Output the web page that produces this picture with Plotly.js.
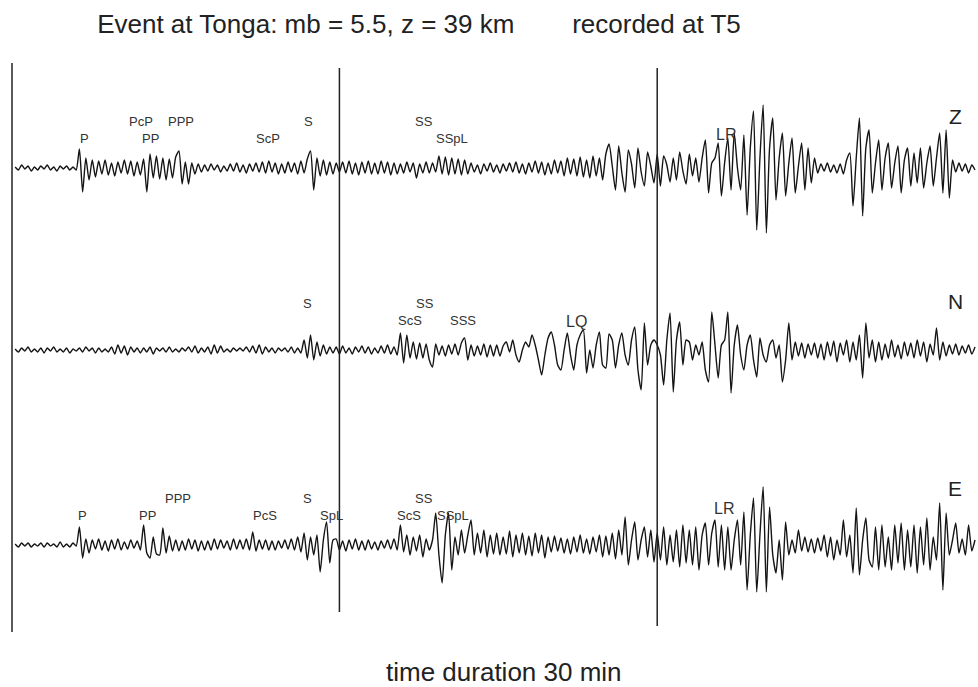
<!DOCTYPE html>
<html>
<head>
<meta charset="utf-8">
<script src="https://cdn.plot.ly/plotly-3.0.1.min.js"></script>
<style>html,body{margin:0;padding:0;background:#fff}#chart{width:978px;height:687px}</style>
</head>
<body>
<div id="chart"></div>
<script>
// ---- data (time in minutes, amplitude in plot units; one row = one minute, 0.1 min step) ----
const startTime = 0.1;
const timeStep = 0.1;

const zAmp = [
  1,-2,3,-1,2,-3,1,-2,2,-1,
  3,-2,1,-3,2,-1,2,-2,1,-2,
  19,-24,10,-12,8,-9,7,-6,8,-7,
  5,-8,6,-5,8,-6,7,-8,6,-7,
  9,-24,14,-10,12,-11,10,-12,9,-10,
  11,17,-16,6,-16,5,-6,4,-4,3,
  -3,4,-2,3,-4,2,-3,4,-3,5,
  -4,3,-5,4,-3,5,-4,6,-5,7,
  -4,5,-6,4,-5,6,-4,5,-6,7,
  -5,9,17,-22,10,-8,8,-7,6,-6,
  5,-4,6,-5,7,-6,5,-7,6,-5,
  7,-6,5,-6,7,-5,6,-7,5,-6,
  4,-5,6,-4,5,-10,4,-5,6,-5,
  5,-4,12,-6,11,-7,10,-6,9,-7,
  8,-6,5,-4,3,-6,4,-3,5,-4,
  3,-5,4,-3,5,-4,6,-5,4,-6,
  5,-4,7,-5,6,-7,5,-6,8,-5,
  7,-8,10,-6,9,-8,11,-9,8,-10,
  12,-8,10,-12,14,24,2,-22,22,-5,
  -24,18,4,-20,20,-4,-18,16,2,-15,
  14,-18,12,3,-14,10,-12,16,-3,-16,
  14,-8,10,-14,10,28,-25,5,10,25,
  -28,5,30,-22,35,0,-22,33,-47,20,
  57,-62,10,63,-65,20,50,-32,10,35,
  -28,5,30,-25,2,25,-22,20,-15,10,
  -5,4,-3,5,-4,3,-5,4,-6,8,
  15,-38,10,50,-48,20,38,-25,5,28,
  -22,10,25,-20,5,22,-25,8,20,-18,
  15,-15,20,-20,5,22,-18,10,35,-25,
  38,-30,8,-4,5,-3,4,-5,3,-2
];

const nAmp = [
  1,-2,2,-1,3,-2,1,-2,2,-3,
  2,-1,3,-2,1,-2,2,-3,1,-1,
  2,-2,3,-1,2,-3,2,-2,1,-2,
  3,-4,5,-3,4,-5,3,-2,2,-3,
  2,-2,3,-4,2,-1,2,-2,3,-2,
  1,-2,2,-1,3,-2,4,-3,2,-2,
  3,-4,5,-3,4,-2,1,-2,2,-1,
  2,-1,3,-2,4,-3,5,-4,3,-2,
  2,-3,2,-1,2,-2,3,-3,2,-3,
  10,-8,15,-10,8,-6,5,-4,3,-3,
  3,-4,4,-3,2,-4,3,-2,4,-3,
  3,-4,2,-3,4,-3,5,-4,3,-5,
  17,-13,15,-8,8,-9,7,-8,6,-10,
  -17,6,-5,4,-6,5,-4,6,-5,7,
  12,-10,5,-6,4,-5,6,-7,5,-6,
  5,-6,4,8,-2,10,-5,-12,0,8,
  3,15,5,-10,-25,-5,12,18,5,-15,
  -20,0,17,-5,-20,5,15,20,-23,0,
  -18,5,18,-15,-18,16,10,-18,5,17,
  -5,-15,10,23,-20,-40,27,-15,5,10,
  5,-5,-35,10,37,-42,10,28,-15,10,
  8,-10,5,-5,8,-20,-32,38,5,-28,
  5,10,38,-43,5,25,-5,-20,5,15,
  -10,-27,12,-5,-12,5,10,-8,5,-32,
  -10,27,-10,8,-6,7,-8,6,-5,7,
  -8,6,-10,8,-6,9,-12,7,-5,10,
  -12,8,-10,15,-28,27,-8,10,-12,8,
  -10,6,-8,10,-7,5,-9,8,-6,7,
  -8,10,-6,8,-12,6,-5,22,-10,8,
  -6,5,-4,6,-5,4,-3,5,-4,3
];

const eAmp = [
  1,-2,2,-1,2,-2,1,-1,2,-2,
  2,-1,1,-2,3,-2,1,-2,2,-1,
  18,-13,6,-8,5,-4,6,-5,4,-6,
  5,-4,6,-5,3,-4,5,-3,4,-5,
  20,-8,-13,8,-9,-10,17,-8,9,-6,
  5,-6,4,-5,6,-4,5,-6,4,-5,
  4,-5,6,-4,5,-3,4,-5,6,-4,
  5,-4,6,-5,13,-6,5,-4,5,-5,
  4,-5,4,-3,5,-4,6,-5,8,-7,
  12,-15,8,-10,10,-27,5,23,-18,5,
  6,-5,4,-6,5,-4,6,-5,4,-5,
  5,-4,3,-5,4,-3,5,-4,6,-5,
  20,-7,10,-10,8,-6,10,-12,6,-5,
  5,32,-10,-38,10,32,-25,8,-10,15,
  -8,10,25,-10,12,-8,15,-12,10,-9,
  12,-10,8,-9,14,-12,10,-8,12,-10,
  9,-11,12,-8,10,-13,8,-7,9,-6,
  7,-8,6,-9,8,-7,10,-8,6,-9,
  8,-7,10,-12,9,-10,12,-14,15,-10,
  28,-20,5,23,-15,5,18,-12,15,-17,
  12,-15,18,-20,10,-17,15,-22,20,-18,
  15,-20,18,-25,10,22,-20,12,25,-22,
  20,-25,18,-25,5,25,-20,33,-45,10,
  47,-47,10,58,-47,38,-10,-28,5,-35,
  23,-10,5,-8,15,-6,8,-7,6,-8,
  7,-6,10,-12,8,-15,5,-10,25,-12,
  10,-28,37,-30,5,27,-15,-22,18,-25,
  20,-22,8,-25,20,-18,22,-25,15,-22,
  20,-28,18,-20,27,-25,8,-15,42,-45,
  32,-10,5,22,-8,6,-10,20,-6,5
];

// minute marks (vertical lines)
const markTimes = [0, 10.2, 20.1];

// phase picks: names and times (min)
const zPhases = ["P","PcP","PP","PPP","ScP","S","SS","SSpL"];
const zPhaseTimes = [2.27,4.02,4.30,5.26,7.98,9.25,12.83,13.71];
const zPhaseRow = [0,1,0,1,0,1,1,0];
const nPhases = ["S","SS","ScS","SSS"];
const nPhaseTimes = [9.22,12.87,12.40,14.05];
const nPhaseRow = [1,1,0,0];
const ePhases = ["P","PP","PPP","PcS","S","SpL","SS","ScS","SSpL"];
const ePhaseTimes = [2.21,4.21,5.17,7.88,9.19,9.94,12.83,12.37,13.74];
const ePhaseRow = [0,0,1,0,1,0,1,0,0];
const waveNames = ["LR","LQ","LR"];
const waveTimes = [22.24,17.57,22.18];
const components = ["Z","N","E"];
const componentTime = 29.38;

// ---- drawing ----
const pxPerMin = 32.1, x0px = 12;
const baselines = [-168, -350, -545];
const amps = [zAmp, nAmp, eAmp];
const times = zAmp.map((_, i) => +(startTime + i * timeStep).toFixed(2));

const traces = amps.map((a, k) => ({
  x: times,
  y: a.map(v => baselines[k] + v),
  type: 'scatter', mode: 'lines',
  line: {color: '#141414', width: 1.4, shape: 'spline', smoothing: 0.6},
  hoverinfo: 'skip', showlegend: false
}));

const lineTops = [-63, -68, -68];
const lineBottoms = [-632, -612, -626];
const shapes = markTimes.map((t, i) => ({
  type: 'line', xref: 'x', yref: 'y', x0: t, x1: t, y0: lineTops[i], y1: lineBottoms[i],
  line: {color: '#222', width: 1.5}
}));

const font = 'Liberation Sans, Arial, sans-serif';
const ann = [];
function addPhases(names, ts, rows, base) {
  names.forEach((n, i) => {
    ann.push({x: ts[i], y: base + (rows[i] ? 47 : 30), xref: 'x', yref: 'y', text: n,
      showarrow: false, xanchor: 'center', yanchor: 'middle',
      font: {family: font, size: 13, color: '#333'}});
  });
}
addPhases(zPhases, zPhaseTimes, zPhaseRow, baselines[0]);
addPhases(nPhases, nPhaseTimes, nPhaseRow, baselines[1]);
addPhases(ePhases, ePhaseTimes, ePhaseRow, baselines[2]);
const waveOffsets = [34, 29, 37];
waveNames.forEach((n, i) => ann.push({x: waveTimes[i], y: baselines[i] + waveOffsets[i], xref: 'x', yref: 'y',
  text: n, showarrow: false, font: {family: font, size: 16, color: '#333'}}));
const compOffsets = [52, 49, 57];
components.forEach((c, i) => ann.push({x: componentTime, y: baselines[i] + compOffsets[i], xref: 'x', yref: 'y',
  text: c, showarrow: false, font: {family: font, size: 21, color: '#222'}}));
ann.push({x: 0.515, y: 1 - 672/687, xref: 'paper', yref: 'paper', yanchor: 'middle', text: 'time duration 30 min',
  showarrow: false, font: {family: font, size: 26, color: '#222'}});

const layout = {
  width: 978, height: 687,
  margin: {l: 0, r: 0, t: 0, b: 0},
  paper_bgcolor: '#fff', plot_bgcolor: '#fff',
  title: {text: 'Event at Tonga: mb = 5.5, z = 39 km' + '\u00A0'.repeat(8) + 'recorded at T5',
    x: 0.4284, xanchor: 'center', y: 1 - 24/687, yanchor: 'middle',
    font: {family: font, size: 26, color: '#222'}},
  xaxis: {range: [-x0px / pxPerMin, (978 - x0px) / pxPerMin], visible: false, fixedrange: true},
  yaxis: {range: [-687, 0], visible: false, fixedrange: true},
  shapes: shapes, annotations: ann, showlegend: false
};

Plotly.newPlot('chart', traces, layout, {staticPlot: true});
</script>
</body>
</html>
